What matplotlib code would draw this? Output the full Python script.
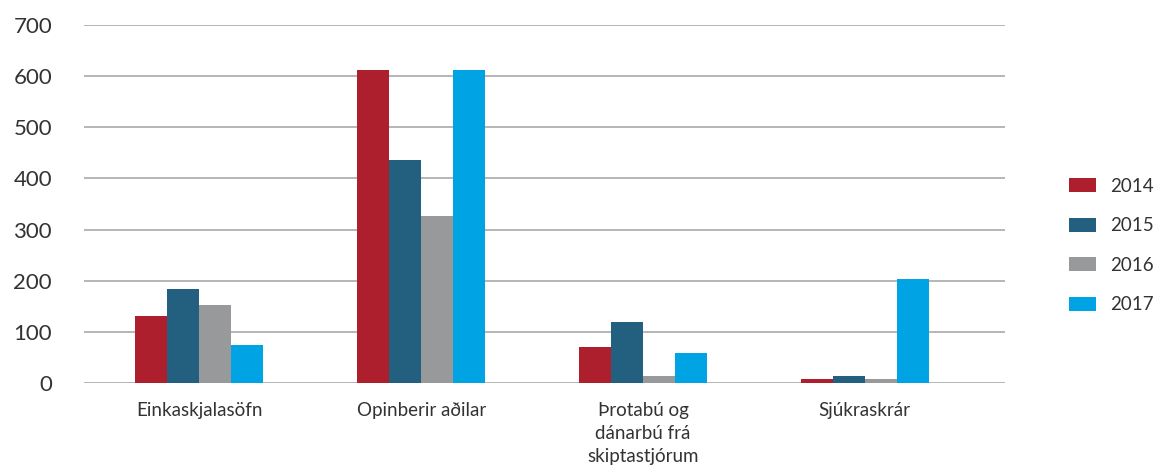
import numpy as np
import matplotlib.pyplot as plt

categories = ["Einkaskjalasöfn", "Opinberir aðilar", "Þrotabú og\ndánarbú frá\nskiptastjórum", "Sjúkraskrár"]
years = ["2014", "2015", "2016", "2017"]
values_2014 = [131, 612, 70, 8]
values_2015 = [184, 436, 119, 14]
values_2016 = [153, 327, 14, 8]
values_2017 = [74, 612, 59, 204]
yticks = [0, 100, 200, 300, 400, 500, 600, 700]

series = [values_2014, values_2015, values_2016, values_2017]
colors = ["#ae1f2e", "#236080", "#98999b", "#00a4e4"]

plt.rcParams['font.family'] = ['Lato', 'DejaVu Sans']

fig = plt.figure(figsize=(11.55, 4.74), dpi=100)
ax = fig.add_axes([0.0727, 0.192, 0.797, 0.755])

x = np.arange(len(categories))
width = 0.144
for i, (vals, year, col) in enumerate(zip(series, years, colors)):
    ax.bar(x + (i - 1.5) * width, vals, width, color=col, label=year, zorder=3)

ax.set_ylim(0, 700)
ax.set_xlim(-0.52, 3.63)
ax.set_yticks(yticks)
ax.yaxis.grid(True, color="#b0b0b0", linewidth=1.3, zorder=0)
for s in ax.spines.values():
    s.set_visible(False)
ax.tick_params(axis="y", length=0, pad=23, labelsize=16, labelcolor="#333333")
ax.tick_params(axis="x", length=0, pad=14, labelsize=13.5, labelcolor="#333333")
ax.set_xticks(x)
ax.set_xticklabels(categories, linespacing=1.4)

fig.legend(loc="center left", bbox_to_anchor=(0.911, 0.482), frameon=False,
           fontsize=13.5, handlelength=1.45, handleheight=0.75, labelspacing=1.2,
           handletextpad=0.75, labelcolor="#333333")

fig.savefig("out.png", dpi=100)
